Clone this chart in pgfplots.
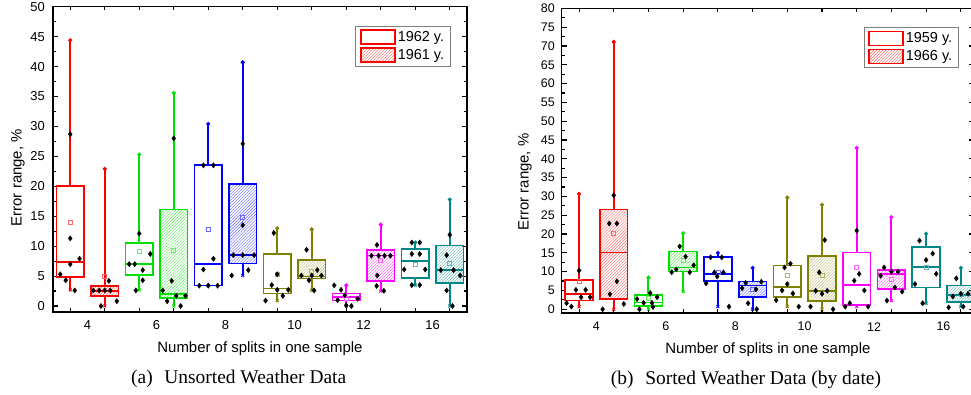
\documentclass[border=0pt]{standalone}
\usepackage{fontspec}
\setmainfont{Liberation Sans}
\newfontfamily\capfont{Liberation Serif}
\usepackage{pgfplots}
\pgfplotsset{compat=1.18}
\usepgfplotslibrary{statistics}
\usetikzlibrary{patterns}

\definecolor{cR}{RGB}{255,0,0}
\definecolor{cG}{RGB}{0,225,0}
\definecolor{cB}{RGB}{0,0,255}
\definecolor{cO}{RGB}{128,128,0}
\definecolor{cM}{RGB}{255,0,255}
\definecolor{cT}{RGB}{0,135,135}

% whiskers and whisker ends: pos, lw, lq, uq, uw, colour
\newcommand{\wsk}[6]{%
  \addplot[#6, line width=2bp, mark=none] coordinates {(#1,#2) (#1,#3)};
  \addplot[#6, line width=2bp, mark=none] coordinates {(#1,#4) (#1,#5)};
  \addplot[only marks, mark=*, mark size=1.9bp, #6] coordinates {(#1,#5)};
  \addplot[only marks, mark=x, mark size=2bp, line width=1bp, #6] coordinates {(#1,#2)};}
% open box: pos, lw, lq, med, uq, uw, colour
\newcommand{\obx}[7]{\addplot[draw=#7, fill=white, line width=1.7bp, mark=none,
  boxplot prepared={draw position=#1, lower whisker=#2, lower quartile=#3, median=#4,
  upper quartile=#5, upper whisker=#6, box extend=0.8, whisker extend=0}] coordinates {};
  \wsk{#1}{#2}{#3}{#5}{#6}{#7}}
% hatched box
\newcommand{\hbx}[7]{\addplot[draw=#7, pattern=north east lines, pattern color=#7!60, line width=1.7bp, mark=none,
  boxplot prepared={draw position=#1, lower whisker=#2, lower quartile=#3, median=#4,
  upper quartile=#5, upper whisker=#6, box extend=0.8, whisker extend=0}] coordinates {};
  \wsk{#1}{#2}{#3}{#5}{#6}{#7}}

\pgfplotsset{
  common/.style={
    scale only axis, xmin=3, ymin=-1,
    boxplot/draw direction=y,
    axis line style={line width=1.1bp},
    every tick/.style={black, line width=1.1bp},
    major tick length=5bp, minor tick length=3.5bp,
    xtick={4,6,...,14}, xticklabels={4,6,8,10,12,16},
    major x tick style={draw=none},
    minor xtick={3.5,4.5,...,14.5},
    minor y tick num=1,
    /pgf/number format/assume math mode=true,
    label style={font=\fontsize{15}{17}\selectfont},
    xlabel={Number of splits in one sample},
    ylabel={Error range, \%},
    legend cell align=left,
    legend style={anchor=north east, draw=gray, line width=0.6bp,
      font=\fontsize{14.5}{16}\selectfont, inner xsep=4.5bp, inner ysep=3bp, row sep=2.5bp},
  },
  pts/.style={only marks, mark=diamond*, mark size=2.6bp, black},
  meanmk/.style={only marks, mark=square, mark size=2bp, line width=0.6bp},
  leg open/.style={legend image code/.code={\draw[draw=cR, fill=white, line width=1.5bp] (0bp,-7bp) rectangle (34bp,7bp);}},
  leg hatch/.style={legend image code/.code={\draw[draw=cR, pattern=north east lines, pattern color=cR!60, line width=1.5bp] (0bp,-7bp) rectangle (34bp,7bp);}},
}

\begin{document}
\begin{tikzpicture}
\useasboundingbox (0,0) rectangle (971bp,395bp);
\clip (0,0) rectangle (971bp,395bp);

% ---------------- (a) ----------------
\begin{axis}[common, at={(53bp,83bp)}, anchor=south west,
  width=414bp, height=305.3bp, xmax=15, ymax=50,
  ytick={0,5,...,50},
  tick label style={font=\fontsize{13}{15}\selectfont},
  yticklabel style={anchor=east, inner sep=0pt, xshift=-8bp},
  xticklabel style={anchor=center, yshift=-13bp},
  xlabel style={at={(axis description cs:0.5,-0.119)}, anchor=center},
  ylabel style={at={(axis description cs:-0.0845,0.44)}, anchor=center},
  legend style={at={(axis description cs:0.961,0.937)}},
]
\addlegendimage{leg open}\addlegendentry{1962 y.}
\addlegendimage{leg hatch}\addlegendentry{1961 y.}

\obx{3.5}{2.7}{4.8}{7.35}{20.0}{44.4}{cR}
\hbx{4.5}{0}{1.7}{2.55}{3.4}{22.9}{cR}
\obx{5.5}{2.7}{5.2}{7.0}{10.5}{25.3}{cG}
\hbx{6.5}{0}{1.3}{2.0}{16.1}{35.6}{cG}
\obx{7.5}{3.45}{3.45}{7.0}{23.5}{30.4}{cB}
\hbx{8.5}{5.1}{7.1}{8.5}{20.4}{40.7}{cB}
\obx{9.5}{0.9}{2.1}{2.95}{8.7}{13.0}{cO}
\hbx{10.5}{2.6}{4.6}{4.95}{7.7}{12.8}{cO}
\obx{11.5}{0}{0.9}{1.55}{2.1}{3.45}{cM}
\hbx{12.5}{2.5}{4.2}{8.45}{9.3}{13.6}{cM}
\obx{13.5}{3.5}{4.7}{7.5}{9.5}{10.6}{cT}
\hbx{14.5}{0}{3.8}{6.0}{10.1}{17.8}{cT}

\addplot[meanmk, cR!60] coordinates {(3.5,14.0) (4.5,4.9)};
\addplot[meanmk, cG!60] coordinates {(5.5,9.2) (6.5,9.35)};
\addplot[meanmk, cB!60] coordinates {(7.5,12.75) (8.5,14.75)};
\addplot[meanmk, cO!60] coordinates {(9.5,5.3) (10.5,5.8)};
\addplot[meanmk, cM!60] coordinates {(11.5,1.3) (12.5,7.7)};
\addplot[meanmk, cT!60] coordinates {(13.5,7.0) (14.5,7.2)};

\addplot[pts] coordinates {
 (3.5,28.7) (3.5,11.3) (3.5,7.0) (3.77,7.9) (3.21,5.3) (3.37,4.3) (3.63,2.6)
 (4.62,4.2) (4.17,2.6) (4.34,2.6) (4.5,2.6) (4.66,2.6) (4.39,0) (4.85,0.8)
 (5.5,12.1) (5.21,7.0) (5.37,7.0) (5.82,8.7) (5.6,6.0) (5.6,4.3) (5.4,2.6)
 (6.5,28.0) (6.44,4.2) (6.18,2.6) (6.57,1.7) (6.84,1.7) (6.31,0.8) (6.7,0)
 (7.36,23.5) (7.65,23.5) (7.65,7.9) (7.36,6.1) (7.24,3.4) (7.5,3.4) (7.77,3.4)
 (8.5,27.1) (8.5,13.5) (8.23,8.5) (8.5,8.5) (8.83,8.5) (8.18,5.1) (8.66,6.0)
 (9.4,12.2) (9.5,5.3) (9.34,3.5) (9.5,2.7) (9.82,2.7) (9.66,1.7) (9.16,0.9)
 (10.35,9.4) (10.66,6.0) (10.2,5.1) (10.5,5.1) (10.78,5.1) (10.42,4.3) (10.57,2.6)
 (11.15,3.45) (11.35,2.7) (11.46,1.8) (11.25,1.0) (11.83,1.2) (11.5,0.1) (11.65,0)
 (12.39,10.2) (12.23,8.4) (12.44,8.4) (12.61,8.4) (12.78,8.4) (12.4,5.1) (12.38,3.35) (12.59,2.55)
 (13.4,10.6) (13.63,10.6) (13.4,8.7) (13.63,8.7) (13.18,6.1) (13.79,6.1) (13.4,3.5) (13.63,3.5)
 (14.5,11.9) (14.41,8.5) (14.24,6.0) (14.61,6.0) (14.8,5.1) (14.41,2.6) (14.58,0)
};
\end{axis}

% ---------------- (b) ----------------
\begin{axis}[common, at={(561.7bp,82bp)}, anchor=south west,
  width=412.3bp, height=304.6bp, xmax=14.88, ymax=80,
  ytick={0,5,...,80},
  tick label style={font=\fontsize{12.5}{14}\selectfont},
  yticklabel style={anchor=east, inner sep=0pt, xshift=-6.7bp},
  xticklabel style={anchor=center, yshift=-13.7bp},
  xlabel style={at={(axis description cs:0.5,-0.121)}, anchor=center},
  ylabel style={at={(axis description cs:-0.089,0.43)}, anchor=center},
  legend style={at={(axis description cs:0.9636,0.938)}},
]
\addlegendimage{leg open}\addlegendentry{1959 y.}
\addlegendimage{leg hatch}\addlegendentry{1966 y.}

\obx{3.5}{0.7}{2.3}{4.1}{7.7}{30.7}{cR}
\hbx{4.5}{0}{2.75}{15.1}{26.5}{71.1}{cR}
\obx{5.5}{0}{0.9}{1.8}{3.7}{8.4}{cG}
\hbx{6.5}{4.7}{10.0}{11.1}{15.35}{20.2}{cG}
\obx{7.5}{0.7}{7.6}{9.3}{13.8}{15.0}{cB}
\hbx{8.5}{0}{3.2}{6.3}{7.35}{11.0}{cB}
\obx{9.5}{0.7}{3.2}{6.0}{11.6}{29.7}{cO}
\hbx{10.5}{0}{2.2}{4.9}{14.2}{27.8}{cO}
\obx{11.5}{0.7}{1.1}{6.5}{15.1}{42.9}{cM}
\hbx{12.5}{2.3}{5.3}{9.4}{10.5}{24.5}{cM}
\obx{13.5}{1.6}{5.8}{11.2}{16.5}{20.1}{cT}
\hbx{14.5}{0.7}{1.85}{3.8}{6.3}{11.0}{cT}

\addplot[meanmk, cR!60] coordinates {(3.5,7.4) (4.5,20.1)};
\addplot[meanmk, cG!60] coordinates {(5.5,2.9) (6.5,13.1)};
\addplot[meanmk, cB!60] coordinates {(7.5,9.85) (8.5,5.3)};
\addplot[meanmk, cO!60] coordinates {(9.5,9.0) (10.5,9.0)};
\addplot[meanmk, cM!60] coordinates {(11.5,11.2) (12.5,8.0)};
\addplot[meanmk, cT!60] coordinates {(13.5,11.2) (14.5,4.0)};

\addplot[pts] coordinates {
 (3.5,10.3) (3.41,5.15) (3.69,5.15) (3.56,3.2) (3.82,3.2) (3.14,1.6) (3.28,0.7)
 (4.5,30.3) (4.37,22.8) (4.59,22.8) (4.59,7.4) (4.39,4.0) (4.79,1.4) (4.18,0)
 (5.55,4.3) (5.75,3.2) (5.17,2.7) (5.36,1.7) (5.6,1.7) (5.63,0.6) (5.24,0)
 (6.4,16.7) (6.57,14.0) (6.8,11.7) (6.3,10.6) (6.17,9.85) (6.69,9.85)
 (7.29,13.8) (7.61,13.8) (7.4,9.8) (7.66,9.8) (7.48,8.7) (7.16,6.9) (7.82,0.7)
 (8.75,7.3) (8.3,7.0) (8.2,5.6) (8.6,5.3) (8.37,1.6) (8.62,0)
 (9.42,11.1) (9.59,12.1) (9.5,6.7) (9.35,5.0) (9.66,4.2) (9.18,2.4) (9.83,0.7)
 (10.58,18.4) (10.42,9.8) (10.32,4.9) (10.65,4.9) (10.5,4.1) (10.17,0.7) (10.82,0)
 (11.5,20.9) (11.57,9.4) (11.43,7.6) (11.72,5.0) (11.3,1.6) (11.17,0.7) (11.83,0.7)
 (12.29,11.1) (12.5,10.0) (12.69,10.0) (12.19,8.9) (12.6,5.8) (12.81,4.7) (12.37,2.3)
 (13.31,18.25) (13.69,14.8) (13.5,13.1) (13.79,9.4) (13.18,6.7) (13.4,1.6)
 (14.37,8.2) (14.5,4.1) (14.71,4.1) (14.27,3.4) (14.15,0.5) (14.57,0.7) (14.85,4.3)
};
\end{axis}

\node[font=\capfont\fontsize{19.5}{22}\selectfont] at (238.7bp,16.5bp) {(a)\hspace{0.6em}Unsorted Weather Data};
\node[font=\capfont\fontsize{19.5}{22}\selectfont] at (746bp,15bp) {(b)\hspace{0.6em}Sorted Weather Data (by date)};
\end{tikzpicture}
\end{document}
